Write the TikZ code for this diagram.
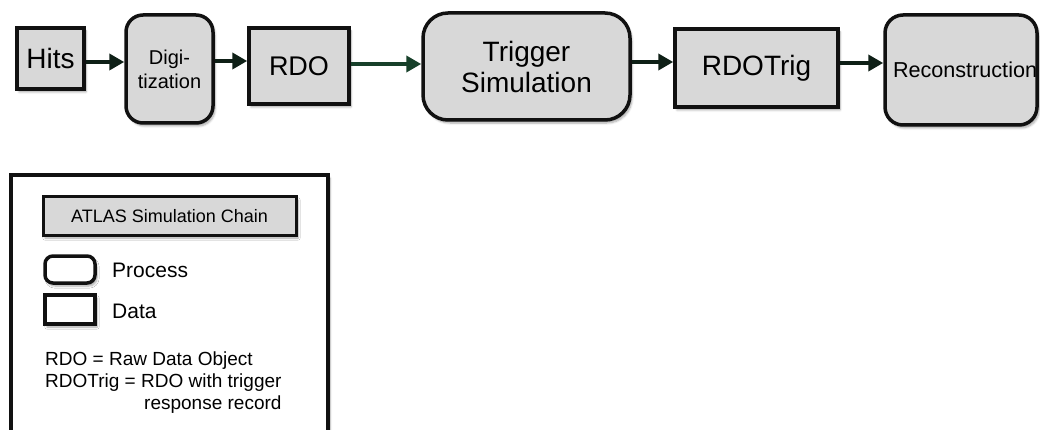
\documentclass[tikz,border=0pt]{standalone}
\usepackage{fontspec}
\setmainfont{Liberation Sans}
\usetikzlibrary{arrows.meta,shadows.blur}
\definecolor{boxfill}{HTML}{D8D8D8}
\definecolor{boxline}{HTML}{111111}
\definecolor{arrline}{HTML}{0E1F16}
\definecolor{arrgreen}{HTML}{17402A}
\tikzset{
  shd/.style={blur shadow={shadow xshift=2pt, shadow yshift=-3pt, shadow blur steps=6, shadow opacity=35}},
  databox/.style={draw=boxline, line width=3.5pt, fill=boxfill, inner sep=0pt, shd},
  procbox/.style={databox, rounded corners=#1},
  procbox/.default=17pt,
  arr/.style={draw=arrline, line width=4pt, -{Triangle[length=15pt,width=16pt]}},
  fs/.style={font=\fontsize{#1}{#1}\selectfont},
}
\begin{document}
\begin{tikzpicture}[x=1pt,y=-1pt]
\useasboundingbox (0,0) rectangle (1040,430);
% chain
\node[databox, minimum width=67pt, minimum height=61pt, fs=28] (hits) at (50.5,58.5) {Hits};
\node[procbox=17pt, minimum width=87pt, minimum height=108pt, align=center, font=\fontsize{20}{24}\selectfont] (digi) at (169.5,69) {Digi-\\tization};
\node[databox, minimum width=100pt, minimum height=76pt, fs=27] (rdo) at (299,66) {RDO};
\node[procbox=25pt, minimum width=207pt, minimum height=107pt, align=center, font=\fontsize{28}{31}\selectfont] (trig) at (526.5,66.5) {Trigger\\Simulation};
\node[databox, minimum width=163pt, minimum height=78pt, fs=28] (rdotrig) at (756.5,68) {RDOTrig};
\node[procbox=18pt, minimum width=152pt, minimum height=110pt, text width=136pt, align=left, fs=21.6] (recon) at (961,70) {Reconstruction};
% arrows
\draw[arr] (hits.east |- 0,62) -- (digi.west |- 0,62);
\draw[arr] (digi.east |- 0,61) -- (rdo.west |- 0,61);
\draw[arr, draw=arrgreen] (rdo.east |- 0,64) -- (trig.west |- 0,64);
\draw[arr] (trig.east |- 0,62) -- (rdotrig.west |- 0,62);
\draw[arr] (rdotrig.east |- 0,63) -- (recon.west |- 0,63);
% legend
\node[draw=boxline, line width=3.5pt, fill=white, minimum width=317pt, minimum height=280pt, inner sep=0pt, shd] (legend) at (169.5,315) {};
\node[databox, line width=3pt, minimum width=253pt, minimum height=38pt, fs=18] (atlas) at (169.5,216) {ATLAS Simulation Chain};
\node[procbox=8pt, line width=3.5pt, fill=white, minimum width=50pt, minimum height=27pt] (lproc) at (70,269.5) {};
\node[anchor=west, fs=21, inner sep=0pt] (lproct) at (112,270) {Process};
\node[databox, line width=3.5pt, fill=white, minimum width=50pt, minimum height=29pt] (ldata) at (70,309.5) {};
\node[anchor=west, fs=21, inner sep=0pt] (ldatat) at (112,311) {Data};
\node[anchor=base west, inner sep=0pt, font=\fontsize{19}{22}\selectfont] (notes) at (45,365)
  {\begin{tabular}[t]{@{}l@{}}RDO = Raw Data Object\\RDOTrig = RDO with trigger\\\hfill response record\end{tabular}};
\end{tikzpicture}
\end{document}
